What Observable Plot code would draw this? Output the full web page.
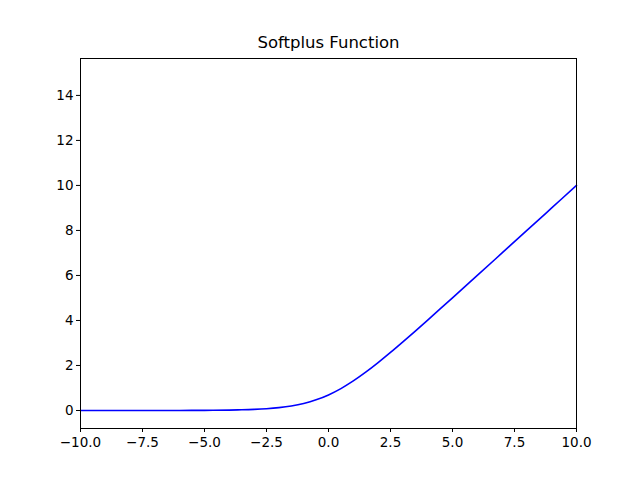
<!DOCTYPE html>
<html>
<head>
<meta charset="utf-8">
<script src="https://cdn.jsdelivr.net/npm/d3@7"></script>
<script src="https://cdn.jsdelivr.net/npm/@observablehq/plot@0.6"></script>
<style>
  body { margin: 0; background: white; }
</style>
</head>
<body>
<div id="chart"></div>
<script>
// valores
const xs = [-10, -9, -8, -7, -6, -5, -4, -3.5, -3, -2.5, -2, -1.5, -1, -0.5, 0, 0.5, 1, 1.5, 2, 2.5, 3, 3.5, 4, 4.5, 5, 6, 7, 8, 9, 10]
const ys = [0.00005, 0.0001, 0.0003, 0.0009, 0.0025, 0.0067, 0.018, 0.03, 0.049, 0.079, 0.127, 0.201, 0.313, 0.474, 0.693, 0.974, 1.313, 1.701, 2.127, 2.579, 3.049, 3.530, 4.018, 4.511, 5.007, 6.002, 7.001, 8.0, 9.0, 10.0]
const xTicks = [-10, -7.5, -5, -2.5, 0, 2.5, 5, 7.5, 10]
const yTicks = [0, 2, 4, 6, 8, 10, 12, 14]

const data = xs.map((x, i) => ({x, y: ys[i]}))

let chart = Plot.plot({
  width: 640,
  height: 480,
  marginLeft: 80,
  marginRight: 64,
  marginTop: 58,
  marginBottom: 52,
  style: {fontFamily: "DejaVu Sans", fontSize: "13.5px", background: "white"},
  x: {domain: [-10, 10]},
  y: {domain: [-0.8, 15.64]},
  marks: [
    Plot.line(data, {x: 'x', y: 'y', stroke: 'blue', strokeWidth: 1.6, curve: 'catmull-rom'}),
    Plot.frame({stroke: 'black', strokeWidth: 1}),
    Plot.axisX({
      ticks: xTicks,
      tickFormat: d3.format('.1f'),
      tickSize: 4,
      tickPadding: 5,
      label: null,
      fill: 'black',
      fontSize: 13.5,
    }),
    Plot.axisY({
      ticks: yTicks,
      tickFormat: 'd',
      tickSize: 4,
      tickPadding: 3,
      label: null,
      fill: 'black',
      fontSize: 13.5,
    }),
    Plot.text(['Softplus Function'], {
      frameAnchor: 'top',
      lineAnchor: 'bottom',
      dy: -11,
      fontSize: 16.5,
      fill: 'black',
    }),
  ],
})

d3.select('#chart').append(() => chart)
</script>
</body>
</html>
